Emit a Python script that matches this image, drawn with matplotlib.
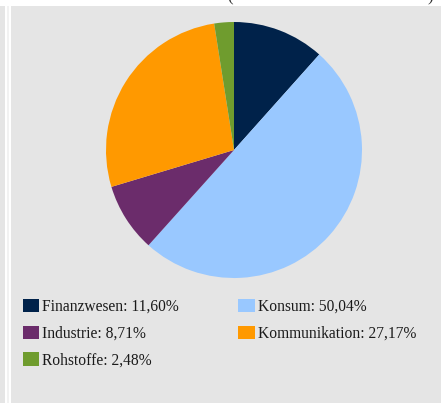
import matplotlib
matplotlib.use("Agg")
import matplotlib.pyplot as plt
from matplotlib.patches import Rectangle, Patch

categories = ["Finanzwesen", "Konsum", "Industrie", "Kommunikation", "Rohstoffe"]
values = [11.60, 50.04, 8.71, 27.17, 2.48]
colors = ["#00224a", "#99c8ff", "#6b2c6b", "#ff9900", "#6f9c2e"]

W, H = 441, 403
fig = plt.figure(figsize=(W / 100, H / 100), dpi=100)
fig.patch.set_facecolor("white")

def px_rect(x0, y0, x1, y1, color):
    fig.patches.append(Rectangle((x0 / W, 1 - y1 / H), (x1 - x0) / W, (y1 - y0) / H,
                                 transform=fig.transFigure, facecolor=color,
                                 edgecolor="none", zorder=-10))

px_rect(11, 6, W, H, "#e5e5e5")
px_rect(0, 6, 5, H, "#e5e5e5")
px_rect(7, 6, 9, H, "#f2f2f2")

# clipped title parentheses at top
fig.text(227 / W, 1 - 5 / H, "(", fontsize=12, family="Liberation Serif",
         va="bottom", ha="left", color="#333333")
fig.text(433 / W, 1 - 5 / H, ")", fontsize=12, family="Liberation Serif",
         va="bottom", ha="right", color="#333333")

cx, cy, r = 234, 150, 128
ax = fig.add_axes([(cx - r) / W, 1 - (cy + r) / H, 2 * r / W, 2 * r / H])
ax.set_zorder(1)
ax.set_facecolor("none")
ax.pie(values, colors=colors, startangle=90, counterclock=False, radius=1,
       wedgeprops=dict(linewidth=0))
ax.set_xlim(-1, 1)
ax.set_ylim(-1, 1)
ax.set_aspect("auto")
ax.axis("off")

def fmt(v):
    return f"{v:.2f}".replace(".", ",") + "%"

labels = [f"{c}: {fmt(v)}" for c, v in zip(categories, values)]
handles = [Patch(facecolor=col, edgecolor="none") for col in colors]
order = [0, 2, 4, 1, 3]
leg = fig.legend([handles[i] for i in order], [labels[i] for i in order],
                 ncol=2, loc="upper left", bbox_to_anchor=(23 / W, 1 - 299 / H),
                 frameon=False, prop=dict(family="Liberation Serif", size=11.2),
                 handlelength=1.05, handleheight=0.95, handletextpad=0.2,
                 columnspacing=3.8, labelspacing=0.68, borderpad=0, borderaxespad=0)
leg.set_zorder(2)
for t in leg.get_texts():
    t.set_color("#1a1a1a")

fig.savefig("out.png", dpi=100)
